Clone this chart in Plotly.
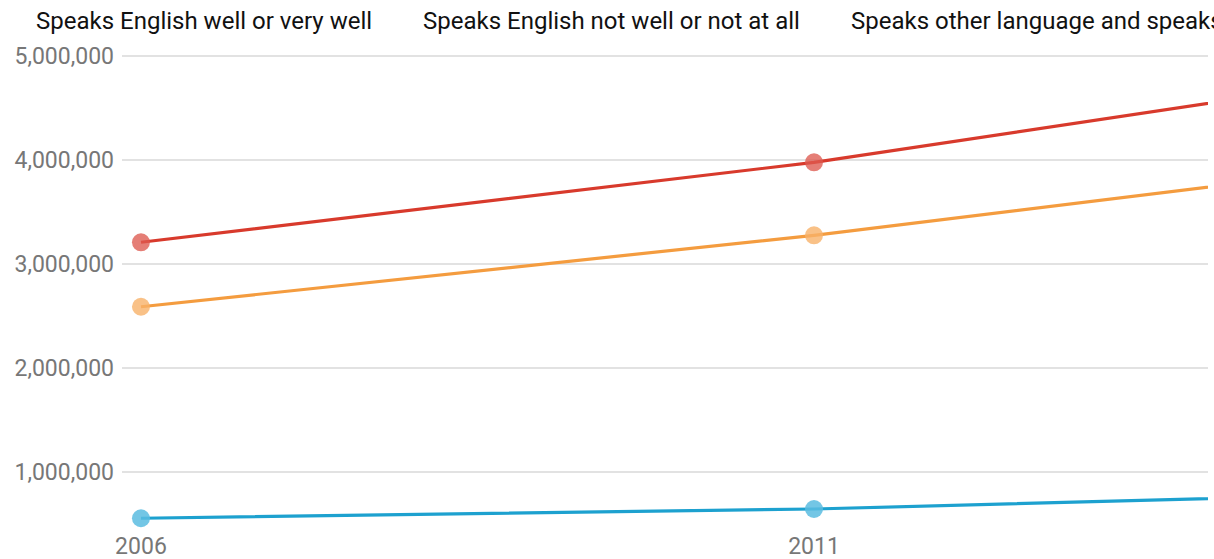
import plotly.graph_objects as go

# Census years and people counts by English proficiency
years = [2006, 2011, 2016]
well_or_very_well = [2589000, 3276000, 4068000]
not_well_or_not_at_all = [555000, 644000, 813000]
other_language_total = [3209000, 3978000, 4945000]

legend_labels = [
    "Speaks English well or very well",
    "Speaks English not well or not at all",
    "Speaks other language and speaks English: Total",
]
y_tick_values = [1000000, 2000000, 3000000, 4000000, 5000000]
y_tick_text = ["1,000,000", "2,000,000", "3,000,000", "4,000,000", "5,000,000"]
x_tick_values = [2006, 2011, 2016]
x_tick_text = ["2006", "2011", "2016"]

W, H = 1214, 559
ML, MR, MT, MB = 122, 6, 50, 29
plot_w = W - ML - MR
plot_h = H - MT - MB

series = [
    (other_language_total, "#d83a2c", "rgba(222,90,80,0.78)", legend_labels[2]),
    (well_or_very_well, "#f49c3f", "rgba(248,178,105,0.8)", legend_labels[0]),
    (not_well_or_not_at_all, "#1da1cf", "rgba(90,188,224,0.85)", legend_labels[1]),
]

fig = go.Figure()
for values, line_col, marker_col, name in series:
    fig.add_trace(go.Scatter(
        x=years, y=values, name=name, mode="lines+markers",
        line=dict(color=line_col, width=3.2),
        marker=dict(color=marker_col, size=18, line=dict(width=0)),
        showlegend=False, cliponaxis=True,
    ))

# Legend row drawn as plain text labels across the top
legend_x_px = [34, 421, 849]
for label, px in zip(legend_labels, legend_x_px):
    fig.add_annotation(
        text=label, xref="paper", yref="paper",
        x=(px - ML) / plot_w, y=(H - MB - 21) / plot_h,
        xanchor="left", yanchor="middle", showarrow=False,
        font=dict(family="Roboto", size=24, color="#111111"),
    )

fig.update_layout(
    width=W, height=H,
    margin=dict(l=ML, r=MR, t=MT, b=MB, autoexpand=False),
    paper_bgcolor="white", plot_bgcolor="white",
    font=dict(family="Roboto"),
    xaxis=dict(
        range=[2005.859, 2013.927], tickvals=x_tick_values, ticktext=x_tick_text,
        showgrid=False, zeroline=False, showline=False, ticks="",
        automargin=False,
        tickfont=dict(size=23, color="#777777"),
    ),
    yaxis=dict(
        range=[442000, 5058000], tickvals=y_tick_values, ticktext=y_tick_text,
        showgrid=True, gridcolor="#e2e2e2", gridwidth=2,
        zeroline=False, showline=False, ticks="", ticklabelstandoff=7,
        automargin=False,
        tickfont=dict(size=23, color="#777777"),
    ),
)

fig.write_html("out.html")
